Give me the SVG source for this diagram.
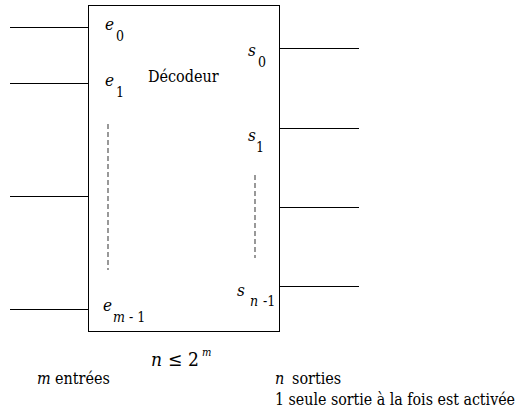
<svg xmlns="http://www.w3.org/2000/svg" width="522" height="416" viewBox="0 0 522 416">
<style>
.ln{stroke:#000;stroke-width:1;fill:none}
.dash{stroke:#555;stroke-width:1.2;stroke-dasharray:5 3;fill:none}
text{font-family:"DejaVu Serif",serif;font-stretch:condensed;fill:#000}
.t{font-size:16px}
.v{font-size:17px;font-style:italic}
.sub{font-size:14px}
.subi{font-size:14px;font-style:italic}
</style>
<rect width="522" height="416" fill="#fff"/>
<g id="decodeur">
<rect class="ln" x="88.5" y="5.5" width="191" height="326"/>
<text class="t" x="148" y="82" font-size="17">Décodeur</text>
</g>
<g id="connectors">
<line class="ln" x1="10" y1="27.5" x2="88" y2="27.5"/>
<line class="ln" x1="10" y1="83.5" x2="88" y2="83.5"/>
<line class="ln" x1="10" y1="196.5" x2="88" y2="196.5"/>
<line class="ln" x1="10" y1="309.5" x2="88" y2="309.5"/>
<line class="ln" x1="280" y1="48.5" x2="359" y2="48.5"/>
<line class="ln" x1="280" y1="128.5" x2="359" y2="128.5"/>
<line class="ln" x1="280" y1="207.5" x2="359" y2="207.5"/>
<line class="ln" x1="280" y1="286.5" x2="359" y2="286.5"/>
<line class="dash" x1="108" y1="124" x2="108" y2="270"/>
<line class="dash" x1="255" y1="175" x2="255" y2="258"/>
</g>
<g id="labels">
<text class="v" x="105" y="30">e</text><text class="sub" x="116" y="41">0</text>
<text class="v" x="105" y="86">e</text><text class="sub" x="116" y="97">1</text>
<text class="v" x="103" y="311">e</text><text class="subi" x="113" y="322">m</text><text class="sub" x="129" y="322">- 1</text>
<text class="v" x="248" y="56">s</text><text class="sub" x="258" y="67">0</text>
<text class="v" x="248" y="141">s</text><text class="sub" x="256" y="152">1</text>
<text class="v" x="237" y="296">s</text><text class="subi" x="250" y="306">n</text><text class="sub" x="263" y="306">-1</text>
<text x="151" y="366" font-size="19" font-style="italic">n</text>
<text x="168" y="366" font-size="19">≤</text>
<text x="188" y="366" font-size="19">2</text>
<text x="202" y="356" font-size="11" font-style="italic">m</text>
<text class="t" x="37" y="384" font-style="italic">m</text><text class="t" x="55" y="384">entrées</text>
<text class="t" x="275" y="384" font-style="italic">n</text><text class="t" x="292" y="384">sorties</text>
<text class="t" x="275" y="405" textLength="240" lengthAdjust="spacingAndGlyphs">1 seule sortie à la fois est activée</text>
</g>
</svg>
